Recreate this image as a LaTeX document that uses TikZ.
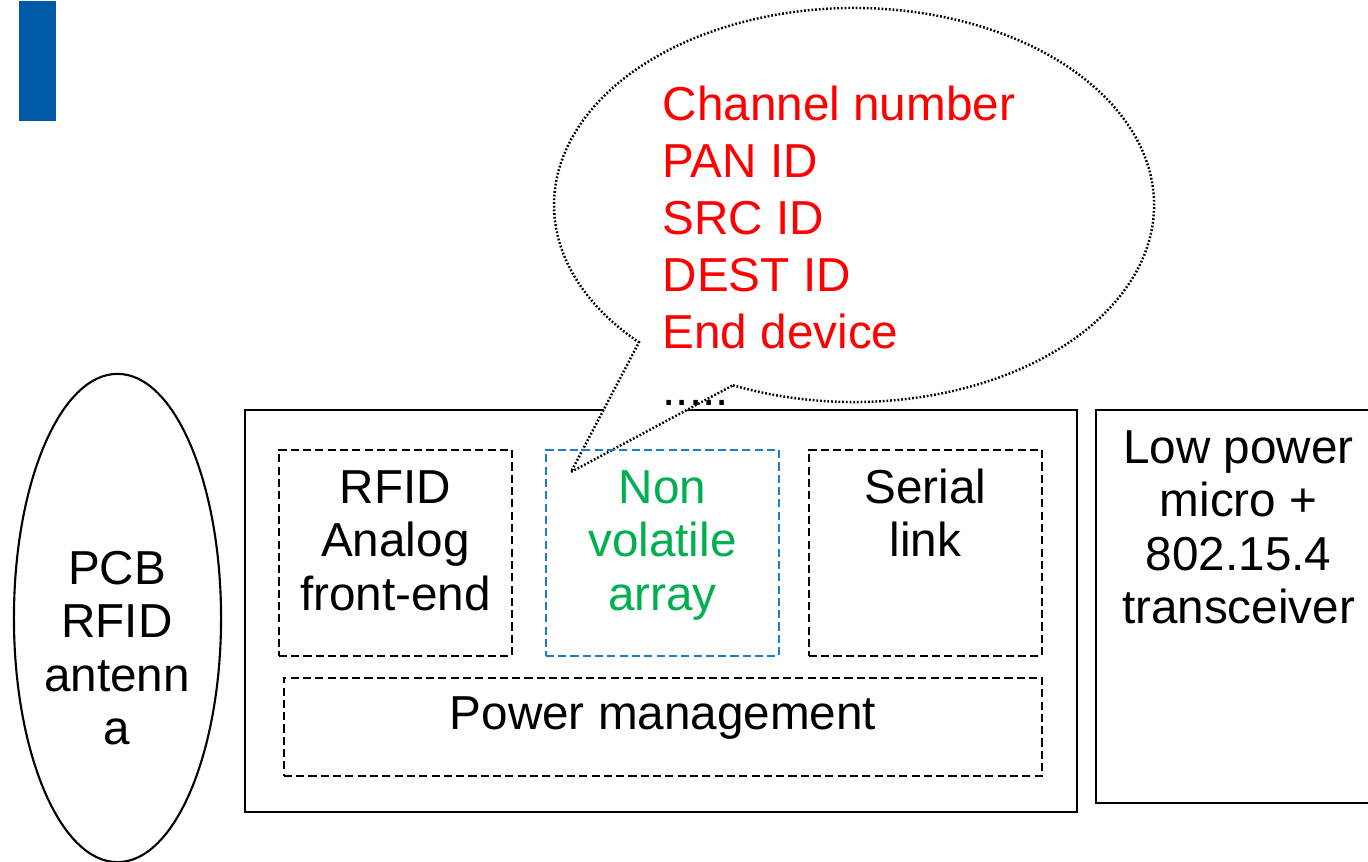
\documentclass[tikz,border=0pt]{standalone}
\usepackage{fontspec}
\setmainfont{Liberation Sans}
\usetikzlibrary{calc,shapes.geometric}
\definecolor{barblue}{RGB}{0,90,168}
\definecolor{nvblue}{RGB}{30,125,200}
\definecolor{nvgreen}{RGB}{0,176,80}
\definecolor{listred}{RGB}{255,0,0}
\begin{document}
\begin{tikzpicture}[x=0.01cm,y=-0.01cm,
  solidbox/.style={draw, line width=0.6pt, anchor=north west, inner sep=0pt, rectangle},
  dashbox/.style={draw, line width=0.45pt, dash pattern=on 2.3pt off 1.2pt, anchor=north west, inner sep=0pt, rectangle},
  lbl/.style={font=\fontsize{13.55}{15.1}\selectfont, align=center, inner sep=0pt, anchor=north},
  calloutline/.style={draw, fill=white, line width=0.7pt, dash pattern=on 0.5pt off 0.55pt, line join=miter}
]
\clip (0,0) rectangle (1368,861);
\fill[white] (0,0) rectangle (1368,861);

% blue bar
\node[fill=barblue, anchor=north west, inner sep=0pt, minimum width=0.37cm, minimum height=1.2cm] (bar) at (18,0) {};

% antenna
\node[draw, ellipse, line width=0.6pt, inner sep=0pt, minimum width=2.07cm, minimum height=4.88cm] (ant) at (117.5,618) {};
\node[lbl] (anttext) at (117,547) {\strut PCB\\RFID\\antenn\\a};

% main box
\node[solidbox, minimum width=8.31cm, minimum height=4.02cm] (main) at (244,409) {};

% right box
\node[solidbox, minimum width=2.85cm, minimum height=3.93cm] (micro) at (1095,409) {};
\node[lbl] (microtext) at (1238.5,426) {\strut Low power\\micro +\\802.15.4\\transceiver};

% callout
\coordinate (cc) at (854,205);
\coordinate (tip) at (571,472);
\draw[calloutline] ($(cc)+(113.8:300 and 197)$) arc[start angle=113.8, end angle=-224.2, x radius=300, y radius=197] -- (tip) -- cycle;

% inner dashed boxes
\node[dashbox, minimum width=2.33cm, minimum height=2.06cm] (afe) at (278,449) {};
\node[dashbox, draw=nvblue, minimum width=2.33cm, minimum height=2.06cm] (nva) at (545,449) {};
\node[dashbox, minimum width=2.33cm, minimum height=2.06cm] (serial) at (808,449) {};
\node[dashbox, minimum width=7.58cm, minimum height=0.98cm] (power) at (283,677) {};

\node[lbl] (afetext) at (afe.north |- 0,466) {\strut RFID\\Analog\\front-end};
\node[lbl, text=nvgreen] (nvatext) at (nva.north |- 0,466) {\strut Non\\volatile\\array};
\node[lbl] (serialtext) at (serial.north |- 0,466) {\strut Serial\\link};
\node[lbl] (powertext) at (power.north |- 0,692) {\strut Power management};

% callout list
\node[font=\fontsize{13.55}{16.2}\selectfont, align=left, inner sep=0pt, anchor=north west, text=listred] (list) at (662,80)
  {\strut Channel number\\PAN ID\\SRC ID\\DEST ID\\End device\\\textcolor{black}{.....}};
\end{tikzpicture}
\end{document}
